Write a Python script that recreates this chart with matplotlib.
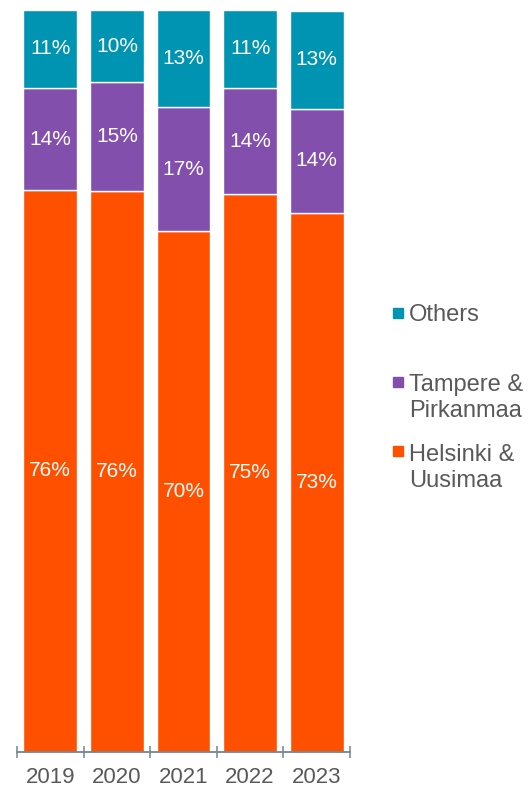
import numpy as np
import matplotlib.pyplot as plt
from matplotlib.patches import Rectangle

plt.rcParams["font.family"] = ["Liberation Sans", "DejaVu Sans"]

# --- data (share of total, %) ---
years = ["2019", "2020", "2021", "2022", "2023"]
helsinki = [75.7, 75.6, 70.2, 75.2, 72.7]
tampere = [13.8, 14.7, 16.7, 14.3, 14.0]
others = [10.6, 9.7, 13.1, 10.6, 13.2]

series_names = ["Helsinki &\nUusimaa", "Tampere &\nPirkanmaa", "Others"]
colors = ["#FF5000", "#834FAD", "#0094B3"]

W, H = 531, 789
fig = plt.figure(figsize=(W / 100, H / 100), dpi=100)
ax = fig.add_axes([17 / W, (H - 751.5) / H, (350 - 17) / W, (751.5 - 9.5) / H])

x = np.arange(len(years))
bottom = np.zeros(len(years))
for vals, col in zip([helsinki, tampere, others], colors):
    vals = np.array(vals)
    ax.bar(x, vals, bottom=bottom, width=0.81, color=col,
           edgecolor="white", linewidth=1.0, zorder=2)
    for xi, b, v in zip(x, bottom, vals):
        ax.text(xi, b + v / 2, f"{v:.0f}%", ha="center", va="center",
                color="white", fontsize=15)
    bottom += vals

ax.set_xlim(-0.5, len(years) - 0.5)
ax.set_ylim(0, bottom.max())

for s in ["top", "right", "left"]:
    ax.spines[s].set_visible(False)
ax.spines["bottom"].set_color("#758591")
ax.spines["bottom"].set_linewidth(1.3)
ax.spines["bottom"].set_zorder(3)
ax.set_yticks([])

# ticks at category boundaries, labels under bar centres
ax.set_xticks(np.arange(len(years) + 1) - 0.5)
ax.set_xticklabels([])
ax.tick_params(axis="x", which="major", direction="inout", length=9,
               width=1.1, color="#758591")
ax.set_xticks(x, minor=True)
ax.set_xticklabels(years, minor=True)
ax.tick_params(axis="x", which="minor", length=0, pad=11,
               labelsize=16, labelcolor="#595959")

# legend (order as in reference: Others, Tampere, Helsinki)
# (square centre y, baseline y of last line) in pixels from top
legend_pos = [(451, 487), (382, 417), (313, 321)]
for name, col, (sq_y, base_y) in zip(series_names, colors, legend_pos):
    fig.patches.append(Rectangle((393 / W, (H - sq_y - 5) / H), 10 / W, 10 / H,
                                 transform=fig.transFigure, color=col))
    fig.text(409 / W, (H - base_y) / H, name, ha="left", va="baseline",
             fontsize=17, color="#595959", linespacing=1.22)

fig.savefig("out.png", dpi=100)
